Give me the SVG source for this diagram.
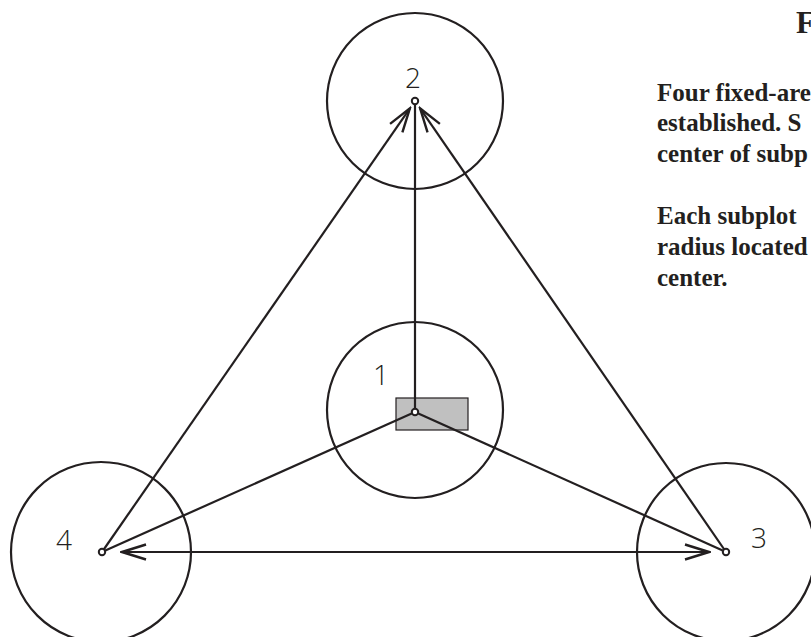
<svg xmlns="http://www.w3.org/2000/svg" width="811" height="637" viewBox="0 0 811 637">
<style>
.plot{fill:none;stroke:#231f20;stroke-width:2.2}
.dot{fill:#fff;stroke:#231f20;stroke-width:2}
.num{font-family:"Open Sans","DejaVu Sans",sans-serif;font-weight:300;font-size:28px;fill:#231f20;text-anchor:middle}
.edge{stroke:#231f20;stroke-width:2.2;fill:none}
.body{font-family:"Liberation Serif","Times New Roman",serif;font-weight:bold;font-size:25px;fill:#231f20}
</style>
<defs>
<marker id="arr" viewBox="-27 -10 29 20" refX="0" refY="0" markerWidth="29" markerHeight="20" markerUnits="userSpaceOnUse" orient="auto-start-reverse">
<path d="M-24,-7.5 L0,0 L-24,7.5" fill="none" stroke="#231f20" stroke-width="2.4"/>
</marker>
</defs>
<rect width="811" height="637" fill="#fff"/>
<g id="node2"><circle class="plot" cx="415" cy="101" r="88"/><text class="num" x="413" y="88">2</text></g>
<g id="node1"><circle class="plot" cx="415" cy="410" r="88"/><text class="num" x="381" y="385">1</text><rect x="396" y="398" width="72" height="32" fill="#c0c0c0" stroke="#231f20" stroke-width="1.2"/></g>
<g id="node4"><circle class="plot" cx="101" cy="552" r="90"/><text class="num" x="64" y="550">4</text></g>
<g id="node3"><circle class="plot" cx="726" cy="552" r="89"/><text class="num" x="759" y="548">3</text></g>
<g id="connectors">
<line class="edge" x1="415" y1="412" x2="415" y2="104"/>
<line class="edge" x1="415" y1="412" x2="102" y2="552"/>
<line class="edge" x1="415" y1="412" x2="726" y2="552"/>
<line class="edge" x1="102" y1="552" x2="409.9" y2="108.4" marker-end="url(#arr)"/>
<line class="edge" x1="726" y1="552" x2="420.1" y2="108.4" marker-end="url(#arr)"/>
<line class="edge" x1="122" y1="552" x2="709" y2="552" marker-start="url(#arr)" marker-end="url(#arr)"/>
</g>
<g id="dots">
<circle class="dot" cx="415" cy="101" r="3.2"/>
<circle class="dot" cx="415" cy="412" r="3.2"/>
<circle class="dot" cx="102" cy="552" r="3.2"/>
<circle class="dot" cx="726" cy="552" r="3.2"/>
</g>
<g id="caption">
<text class="body" x="796" y="33" style="font-size:31px">F</text>
<text class="body" x="657" y="101">Four fixed-are</text>
<text class="body" x="657" y="131">established. S</text>
<text class="body" x="657" y="162">center of subp</text>
<text class="body" x="657" y="224">Each subplot</text>
<text class="body" x="657" y="255">radius located</text>
<text class="body" x="657" y="286">center.</text>
</g>
</svg>
